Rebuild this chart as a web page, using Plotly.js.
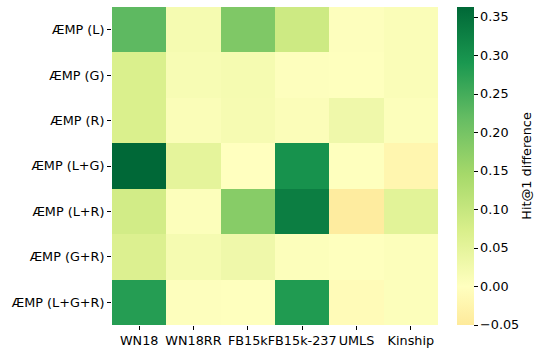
<!DOCTYPE html>
<html>
<head>
<meta charset="utf-8">
<script src="https://cdn.plot.ly/plotly-3.0.1.min.js"></script>
<style>html,body{margin:0;padding:0;background:#fff;}#chart{width:535px;height:350px;}</style>
</head>
<body>
<div id="chart"></div>
<script>
const datasets = ["WN18", "WN18RR", "FB15k", "FB15k-237", "UMLS", "Kinship"];
const models = ["ÆMP (L)", "ÆMP (G)", "ÆMP (R)", "ÆMP (L+G)", "ÆMP (L+R)", "ÆMP (G+R)", "ÆMP (L+G+R)"];
const rowL    = [0.225, 0.020, 0.190, 0.090, 0.003, 0.010];
const rowG    = [0.070, 0.015, 0.020, 0.003, 0.002, 0.010];
const rowR    = [0.070, 0.010, 0.018, 0.008, 0.030, 0.006];
const rowLG   = [0.363, 0.050, 0.000, 0.300, 0.002, -0.022];
const rowLR   = [0.082, 0.005, 0.180, 0.330, -0.045, 0.055];
const rowGR   = [0.066, 0.020, 0.030, 0.005, 0.002, 0.005];
const rowLGR  = [0.280, 0.003, 0.002, 0.285, -0.010, 0.005];
const cbTicks = [-0.05, 0.00, 0.05, 0.10, 0.15, 0.20, 0.25, 0.30, 0.35];
const cbTitle = "Hit@1 difference";
const zMin = -0.05, zMax = 0.363;

// RdYlGn anchors (matplotlib), diverging centered at 0 (seaborn center=0)
const anchors = ["#a50026","#d73027","#f46d43","#fdae61","#fee08b","#ffffbf","#d9ef8b","#a6d96a","#66bd63","#1a9850","#006837"];
function hex2rgb(h){return [parseInt(h.slice(1,3),16),parseInt(h.slice(3,5),16),parseInt(h.slice(5,7),16)];}
function cmap(f){
  const p = f*10; let i = Math.floor(p); if (i>=10) i=9; const t=p-i;
  const a=hex2rgb(anchors[i]), b=hex2rgb(anchors[i+1]);
  return 'rgb('+a.map((v,k)=>Math.round(v+(b[k]-v)*t)).join(',')+')';
}
const vr = Math.max(zMax, -zMin);
const f0 = 0.5 + zMin/(2*vr), f1 = 0.5 + zMax/(2*vr);
const stops = [f0];
for (let k=0;k<=10;k++){ const f=k/10; if (f>f0+1e-6 && f<f1-1e-6) stops.push(f); }
stops.push(f1);
const colorscale = stops.map(f => [(f-f0)/(f1-f0), cmap(f)]);

const z = [rowL, rowG, rowR, rowLG, rowLR, rowGR, rowLGR];
const font = {family: "DejaVu Sans, sans-serif", size: 12.8, color: "#000"};

Plotly.newPlot("chart", [{
  type: "heatmap",
  x: datasets, y: models, z: z,
  zmin: zMin, zmax: zMax,
  colorscale: colorscale,
  xgap: 0, ygap: 0,
  hoverinfo: "skip",
  colorbar: {
    x: 1.058, xanchor: "left", xref: "paper",
    y: 0.5, yanchor: "middle", len: 1, lenmode: "fraction", ypad: 0, xpad: 0,
    thickness: 17, thicknessmode: "pixels",
    outlinewidth: 0,
    tickvals: cbTicks, ticktext: cbTicks.map(v => (v<0?"\u2212":"") + Math.abs(v).toFixed(2)),
    ticks: "outside", ticklen: 4, tickwidth: 1, tickcolor: "#000",
    tickfont: font
  }
}], {
  width: 535, height: 350,
  margin: {l: 112, r: 97, t: 7, b: 25},
  paper_bgcolor: "#fff", plot_bgcolor: "#fff",
  font: font,
  xaxis: {type: "category", ticks: "outside", ticklen: 4, tickwidth: 1, tickcolor: "#000",
          showgrid: false, zeroline: false, showline: false, tickfont: font, tickangle: 0, automargin: false},
  yaxis: {type: "category", autorange: "reversed", ticks: "outside", ticklen: 4, tickwidth: 1, tickcolor: "#000",
          showgrid: false, zeroline: false, showline: false, tickfont: font, automargin: false},
  annotations: [{
    text: cbTitle, xref: "paper", yref: "paper", x: 1.269, y: 0.5,
    xanchor: "center", yanchor: "middle", textangle: -90, showarrow: false, font: font
  }]
}, {displayModeBar: false, staticPlot: true});
</script>
</body>
</html>
